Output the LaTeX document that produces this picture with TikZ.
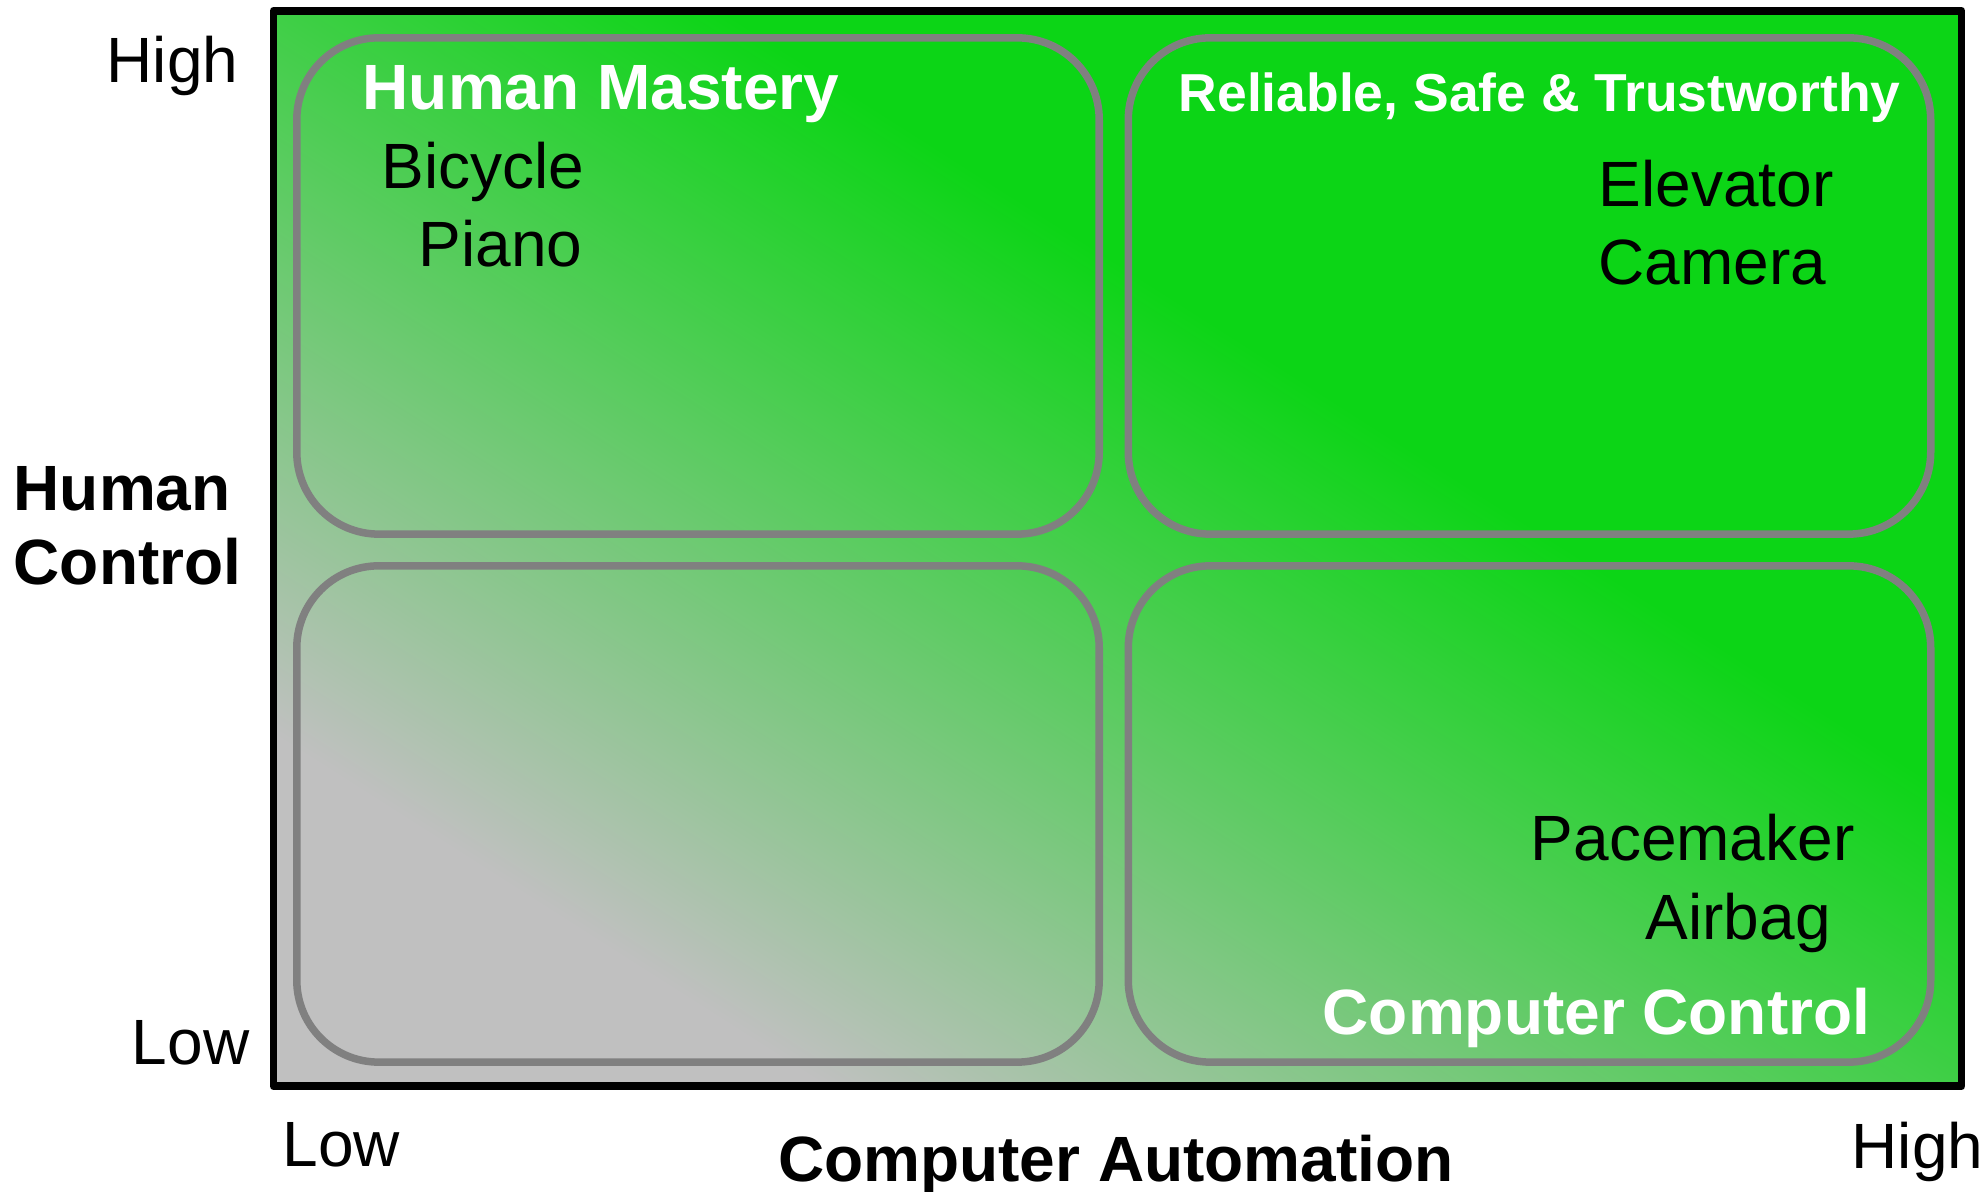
\documentclass[tikz,border=0pt]{standalone}
\usepackage{fontspec}
\setmainfont{Liberation Sans}
\usepackage{tikz}
\usetikzlibrary{positioning,shapes}

\definecolor{lowgray}{RGB}{192,192,192}
\definecolor{highgreen}{RGB}{12,213,22}
\definecolor{quadgray}{RGB}{128,128,128}
\pgfdeclarehorizontalshading{quadshade}{100bp}{color(0bp)=(lowgray); color(26.7bp)=(lowgray); color(59.2bp)=(highgreen); color(100bp)=(highgreen)}

\begin{document}
\begin{tikzpicture}[x=0.01cm,y=0.01cm]
            \tikzstyle{frame}=[rectangle, draw=black, line width=0.078cm, line join=round, shading=quadshade, shading angle=57.5, minimum width=16.87cm, minimum height=10.75cm, inner sep=0pt]
            \tikzstyle{quadrant}=[rectangle, rounded corners=0.82cm, draw=quadgray, line width=0.075cm, minimum width=8.02cm, minimum height=4.96cm, inner sep=0pt]
            \tikzstyle{axislabel}=[inner sep=0pt, font=\fontsize{18.2}{21}\selectfont]
            \tikzstyle{axistitle}=[inner sep=0pt, font=\bfseries\fontsize{18.2}{21}\selectfont]
            \tikzstyle{quadtitle}=[inner sep=0pt, text=white, font=\bfseries\fontsize{18.2}{21}\selectfont]
            \tikzstyle{example}=[inner sep=0pt, font=\fontsize{18.2}{21}\selectfont]
            \useasboundingbox (0,0) rectangle (1988,1192);

            \node[frame] (F) at (1117.5,643.5){};
            \node[quadrant] (TL) at (698,906){};
            \node[quadrant] (TR) at (1529.5,906){};
            \node[quadrant] (BL) at (698,378){};
            \node[quadrant] (BR) at (1529.5,378){};

            % axes
            \node[axislabel, anchor=base east] (yhigh) at (239,1109){High};
            \node[axislabel, anchor=base east] (ylow) at (250,127){Low};
            \node[axistitle, anchor=base west] (yhuman) at (13,681){Human};
            \node[axistitle, anchor=base west] (ycontrol) at (13,607){Control};
            \node[axislabel, anchor=base west] (xlow) at (282,25){Low};
            \node[axislabel, anchor=base west] (xhigh) at (1851,23){High};
            \node[axistitle, anchor=base] (xauto) at (1116,10){Computer Automation};

            % quadrants
            \node[quadtitle, anchor=base west] (mastery) at (362,1082){Human Mastery};
            \node[example, anchor=base west] (bicycle) at (381,1003){Bicycle};
            \node[example, anchor=base west] (piano) at (418,925){Piano};
            \node[quadtitle, anchor=base west, font=\bfseries\fontsize{15.2}{18}\selectfont] (rst) at (1178,1080){Reliable, Safe \& Trustworthy};
            \node[example, anchor=base west] (elevator) at (1598,985){Elevator};
            \node[example, anchor=base west] (camera) at (1598,907){Camera};
            \node[example, anchor=base west] (pacemaker) at (1530,331){Pacemaker};
            \node[example, anchor=base west] (airbag) at (1645,252){Airbag};
            \node[quadtitle, anchor=base west] (compctrl) at (1322,157){Computer Control};

        \end{tikzpicture}
\end{document}
